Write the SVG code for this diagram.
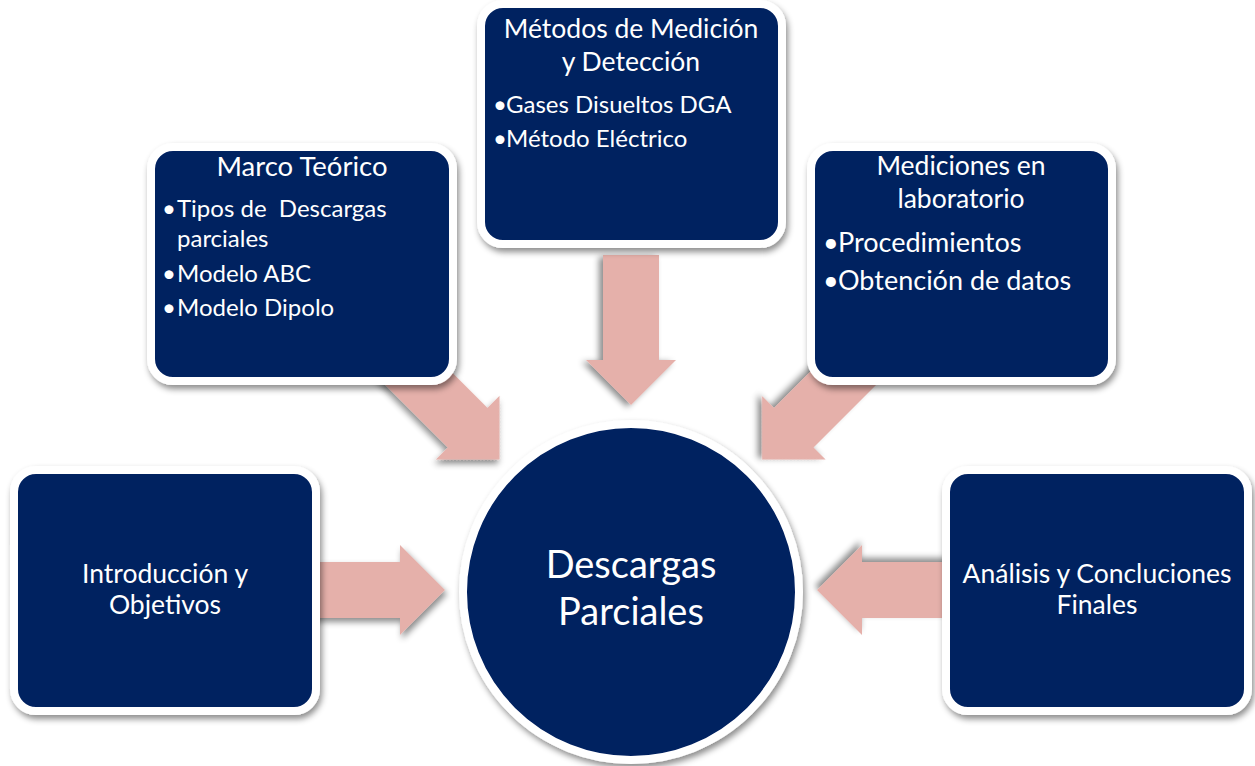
<svg xmlns="http://www.w3.org/2000/svg" width="1255" height="766" viewBox="0 0 1255 766">
  <defs>
    <filter id="sh" x="-20%" y="-20%" width="140%" height="140%">
      <feDropShadow dx="2" dy="4" stdDeviation="3" flood-color="#000" flood-opacity="0.45"/>
    </filter>
    <path id="arr" d="M -150,-28 H -45 V -45 L 0,0 L -45,45 V 28 H -150 Z"/>
  </defs>
  <style>
    .box { fill: #002060; stroke: #ffffff; stroke-width: 8; filter: url(#sh); }
    .arrow { fill: #E5B0AA; filter: url(#sh); }
    text { font-family: Lato, "Noto Sans", "Liberation Sans", sans-serif; fill: #ffffff; }
    .t { font-size: 26.5px; text-anchor: middle; }
    .b { font-size: 24px; }
    .bl { font-size: 27px; }
    .c { font-size: 38px; text-anchor: middle; }
  </style>
  <rect width="1255" height="766" fill="#ffffff"/>

  <g id="connectors">
    <use href="#arr" class="arrow" transform="translate(445,590)"/>
    <use href="#arr" class="arrow" transform="translate(499.5,459.5) rotate(45)"/>
    <use href="#arr" class="arrow" transform="translate(631,405) rotate(90)"/>
    <use href="#arr" class="arrow" transform="translate(762,459.5) rotate(135)"/>
    <use href="#arr" class="arrow" transform="translate(817,590) rotate(180)"/>
  </g>

  <g id="intro">
    <rect class="box" x="14" y="470" width="302" height="241" rx="22"/>
    <text class="t" x="165" y="583">Introducción y</text>
    <text class="t" x="165" y="614">Objetivos</text>
  </g>

  <g id="marco">
    <rect class="box" x="151" y="147" width="302" height="234" rx="22"/>
    <text class="t" x="302" y="176" style="font-size:27.5px">Marco Teórico</text>
    <text class="b" y="217"><tspan x="162">•</tspan><tspan x="177">Tipos de&#160; Descargas</tspan></text>
    <text class="b" x="177" y="247">parciales</text>
    <text class="b" y="282"><tspan x="162">•</tspan><tspan x="177">Modelo ABC</tspan></text>
    <text class="b" y="316"><tspan x="162">•</tspan><tspan x="177">Modelo Dipolo</tspan></text>
  </g>

  <g id="metodos">
    <rect class="box" x="481" y="4" width="301" height="240" rx="22"/>
    <text class="t" x="631" y="38">Métodos de Medición</text>
    <text class="t" x="631" y="71">y Detección</text>
    <text class="b" y="113"><tspan x="493">•</tspan><tspan x="506">Gases Disueltos DGA</tspan></text>
    <text class="b" y="147"><tspan x="493">•</tspan><tspan x="506">Método Eléctrico</tspan></text>
  </g>

  <g id="mediciones">
    <rect class="box" x="811" y="147" width="301" height="234" rx="22"/>
    <text class="t" x="961" y="175">Mediciones en</text>
    <text class="t" x="961" y="208">laboratorio</text>
    <text class="bl" y="252"><tspan x="823">•</tspan><tspan x="838">Procedimientos</tspan></text>
    <text class="bl" y="290"><tspan x="823">•</tspan><tspan x="838">Obtención de datos</tspan></text>
  </g>

  <g id="analisis">
    <rect class="box" x="946" y="470" width="302" height="241" rx="22"/>
    <text class="t" x="1097" y="583">Análisis y Concluciones</text>
    <text class="t" x="1097" y="614">Finales</text>
  </g>

  <g id="centro">
    <circle class="box" cx="631" cy="592" r="168"/>
    <text class="c" x="631" y="578">Descargas</text>
    <text class="c" x="631" y="625">Parciales</text>
  </g>
</svg>
